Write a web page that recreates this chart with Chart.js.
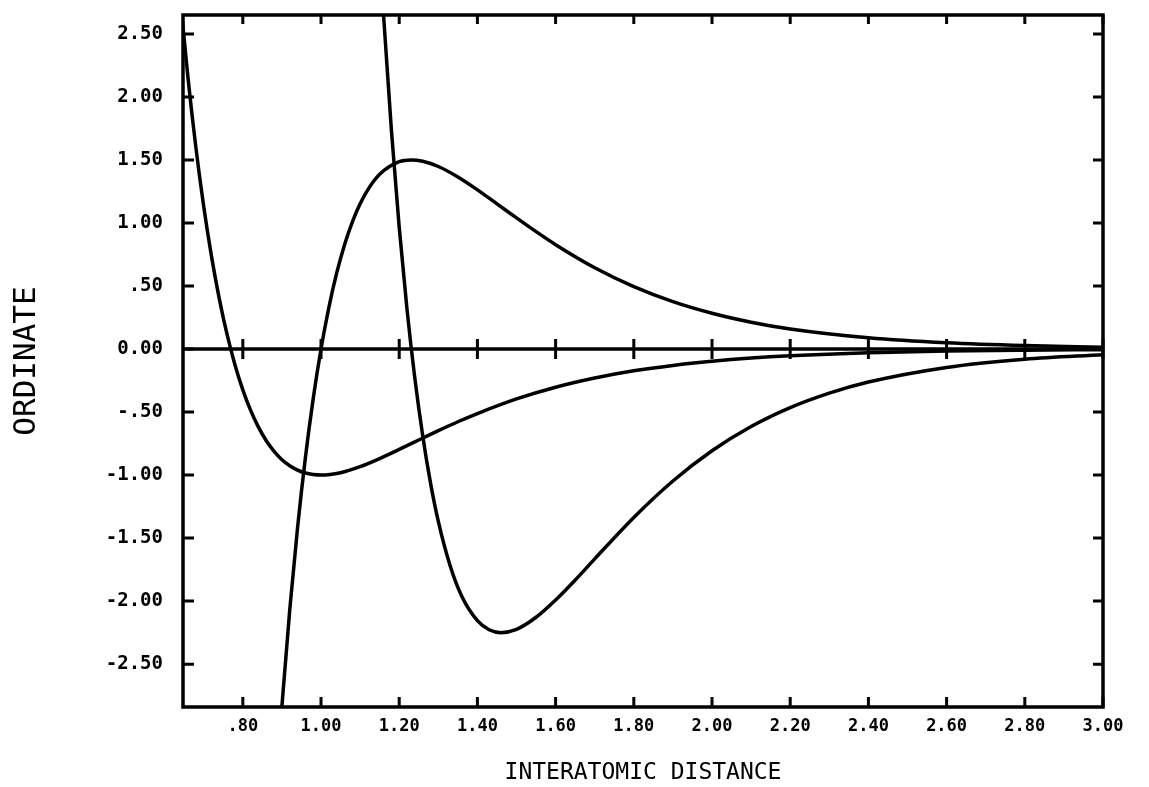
<!DOCTYPE html>
<html lang="en">
<head>
    <meta charset="UTF-8">
    <title>Interatomic distance</title>
    <script src="https://cdn.jsdelivr.net/npm/chart.js"></script>
    <style>
        body {
            margin: 0;
            padding: 0;
            background: #fff;
        }
        canvas {
            display: block;
        }
    </style>
</head>
<body>
    <canvas id="curvas" width="1149" height="787"></canvas>

    <script>
        // tick values and their printed labels
        const xTickValues = [0.8, 1.0, 1.2, 1.4, 1.6, 1.8, 2.0, 2.2, 2.4, 2.6, 2.8, 3.0];
        const xTickLabels = ['.80', '1.00', '1.20', '1.40', '1.60', '1.80', '2.00', '2.20', '2.40', '2.60', '2.80', '3.00'];
        const yTickValues = [-2.5, -2.0, -1.5, -1.0, -0.5, 0.0, 0.5, 1.0, 1.5, 2.0, 2.5];
        const yTickLabels = ['-2.50', '-2.00', '-1.50', '-1.00', '-.50', '0.00', '.50', '1.00', '1.50', '2.00', '2.50'];

        // curve with the minimum of -1.00 near 1.00
        const aX = [0.64, 0.66, 0.68, 0.70, 0.72, 0.74, 0.76, 0.78, 0.80, 0.82, 0.84, 0.86, 0.88, 0.90, 0.92, 0.94, 0.96, 0.98, 1.00, 1.05, 1.10, 1.15, 1.20, 1.25, 1.30, 1.35, 1.40, 1.50, 1.60, 1.70, 1.80, 1.90, 2.00, 2.10, 2.20, 2.40, 2.60, 2.80, 3.00];
        const aY = [2.782, 2.144, 1.598, 1.130, 0.733, 0.396, 0.112, -0.126, -0.324, -0.487, -0.620, -0.728, -0.812, -0.878, -0.926, -0.961, -0.984, -0.996, -1.000, -0.981, -0.933, -0.869, -0.796, -0.722, -0.648, -0.577, -0.512, -0.396, -0.303, -0.230, -0.173, -0.130, -0.097, -0.072, -0.054, -0.030, -0.016, -0.009, -0.005];

        // curve with the peak of 1.50 near 1.23
        const bX = [0.88, 0.90, 0.92, 0.94, 0.96, 0.98, 1.00, 1.02, 1.04, 1.06, 1.08, 1.10, 1.12, 1.15, 1.20, 1.23, 1.26, 1.30, 1.35, 1.40, 1.45, 1.50, 1.55, 1.60, 1.70, 1.80, 1.90, 2.00, 2.10, 2.20, 2.40, 2.60, 2.80, 3.00];
        const bY = [-3.727, -2.833, -2.069, -1.417, -0.862, -0.394, 0.000, 0.329, 0.602, 0.826, 1.007, 1.152, 1.265, 1.386, 1.486, 1.500, 1.490, 1.448, 1.365, 1.263, 1.152, 1.040, 0.931, 0.828, 0.645, 0.495, 0.376, 0.284, 0.213, 0.159, 0.089, 0.049, 0.027, 0.015];

        // curve with the minimum of -2.25 near 1.46
        const cX = [1.14, 1.16, 1.18, 1.20, 1.22, 1.24, 1.26, 1.28, 1.30, 1.33, 1.36, 1.40, 1.43, 1.46, 1.50, 1.55, 1.60, 1.65, 1.70, 1.80, 1.90, 2.00, 2.10, 2.20, 2.30, 2.40, 2.60, 2.80, 3.00];
        const cY = [3.716, 2.646, 1.736, 0.965, 0.313, -0.233, -0.686, -1.062, -1.368, -1.717, -1.961, -2.155, -2.227, -2.250, -2.224, -2.128, -1.991, -1.833, -1.665, -1.336, -1.047, -0.807, -0.615, -0.465, -0.350, -0.262, -0.146, -0.081, -0.045];

        const FONT = "'DejaVu Sans Mono', monospace";

        function puntos(xs, ys) {
            return xs.map((x, i) => ({ x: x, y: ys[i] }));
        }

        function curva(xs, ys) {
            return {
                data: puntos(xs, ys),
                borderColor: '#000',
                borderWidth: 3.5,
                pointRadius: 0,
                fill: false,
                cubicInterpolationMode: 'monotone'
            };
        }

        // frame, zero line and inward tick marks, placed from the scales
        const marco = {
            id: 'marco',
            afterDatasetsDraw(chart) {
                const { ctx, chartArea: a, scales: { x, y } } = chart;
                ctx.save();
                ctx.strokeStyle = '#000';
                ctx.lineCap = 'butt';
                ctx.lineWidth = 3.5;
                ctx.strokeRect(a.left, a.top, a.right - a.left, a.bottom - a.top);

                const y0 = y.getPixelForValue(0);
                ctx.beginPath();
                ctx.moveTo(a.left, y0);
                ctx.lineTo(a.right, y0);
                ctx.stroke();

                ctx.lineWidth = 3;
                ctx.beginPath();
                x.ticks.forEach(t => {
                    const px = x.getPixelForValue(t.value);
                    ctx.moveTo(px, a.bottom);
                    ctx.lineTo(px, a.bottom - 10);
                    ctx.moveTo(px, a.top);
                    ctx.lineTo(px, a.top + 9);
                    ctx.moveTo(px, y0 - 10);
                    ctx.lineTo(px, y0 + 10);
                });
                y.ticks.forEach(t => {
                    const py = y.getPixelForValue(t.value);
                    ctx.moveTo(a.left, py);
                    ctx.lineTo(a.left + 11, py);
                    ctx.moveTo(a.right, py);
                    ctx.lineTo(a.right - 10, py);
                });
                ctx.stroke();
                ctx.restore();
            }
        };

        new Chart(document.getElementById('curvas'), {
            type: 'line',
            data: {
                datasets: [curva(aX, aY), curva(bX, bY), curva(cX, cY)]
            },
            plugins: [marco],
            options: {
                responsive: false,
                animation: false,
                layout: {
                    padding: { top: 15, right: 46, left: 0, bottom: 0 }
                },
                plugins: {
                    legend: { display: false },
                    tooltip: { enabled: false }
                },
                scales: {
                    x: {
                        type: 'linear',
                        min: 0.647,
                        max: 3.0,
                        afterBuildTicks: scale => {
                            scale.ticks = xTickValues.map(v => ({ value: v }));
                        },
                        afterFit: scale => {
                            scale.height = 80;
                            scale.paddingLeft = 0;
                            scale.paddingRight = 0;
                        },
                        grid: { display: false, drawTicks: false },
                        border: { display: false },
                        ticks: {
                            autoSkip: false,
                            maxRotation: 0,
                            padding: 9,
                            color: '#000',
                            font: { family: FONT, size: 17, weight: 'bold' },
                            callback: (value, index) => xTickLabels[index]
                        },
                        title: {
                            display: true,
                            text: 'INTERATOMIC DISTANCE',
                            color: '#000',
                            padding: { top: 0, bottom: 0 },
                            font: { family: FONT, size: 23 }
                        }
                    },
                    y: {
                        min: -2.84,
                        max: 2.65,
                        afterBuildTicks: scale => {
                            scale.ticks = yTickValues.map(v => ({ value: v }));
                        },
                        afterFit: scale => {
                            scale.width = 183;
                            scale.paddingTop = 0;
                            scale.paddingBottom = 0;
                        },
                        grid: { display: false, drawTicks: false },
                        border: { display: false },
                        ticks: {
                            autoSkip: false,
                            padding: 20,
                            color: '#000',
                            font: { family: FONT, size: 19, weight: 'bold' },
                            callback: (value, index) => yTickLabels[index]
                        },
                        title: {
                            display: true,
                            text: 'ORDINATE',
                            color: '#000',
                            padding: { top: 8, bottom: 0 },
                            font: { family: FONT, size: 31 }
                        }
                    }
                }
            }
        });
    </script>
</body>
</html>
